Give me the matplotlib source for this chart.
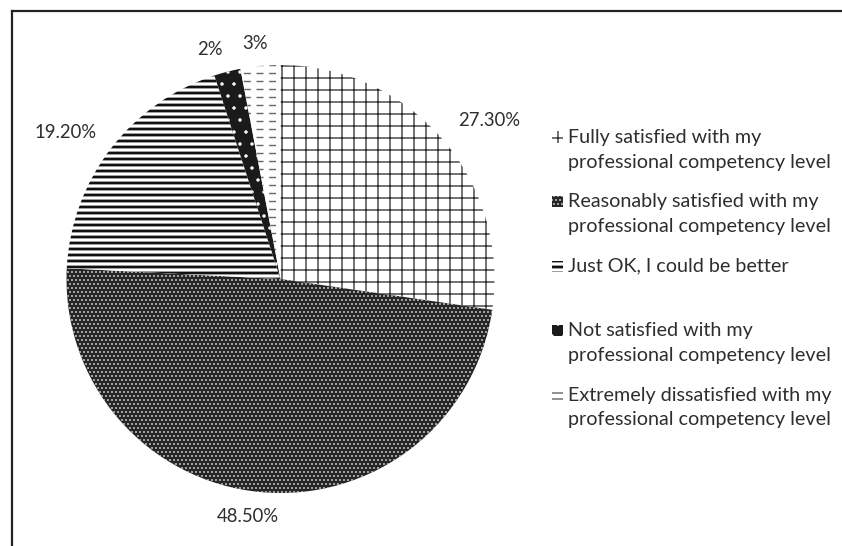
import numpy as np
import matplotlib
matplotlib.use("Agg")
import matplotlib.pyplot as plt
from matplotlib.patches import Rectangle
from matplotlib.lines import Line2D

# ---- data ----
categories = [
    "Fully satisfied with my\nprofessional competency level",
    "Reasonably satisfied with my\nprofessional competency level",
    "Just OK, I could be better",
    "Not satisfied with my\nprofessional competency level",
    "Extremely dissatisfied with my\nprofessional competency level",
]
values = [27.3, 48.5, 19.2, 2.0, 3.0]
value_labels = ["27.30%", "48.50%", "19.20%", "2%", "3%"]

# ---- styles ----
face_colors = ["white", "#262626", "white", "#1a1a1a", "white"]
hatch_colors = ["#2a2a2a", "#d8d8d8", "#111111", "white", "#666666"]
hatches = ["+", "...", "--", ".", None]   # last slice: dashed texture drawn below
legend_hatches = ["+", "...", "--", ".", "--"]
hatch_lw = [1.3, 1.0, 2.8, 1.0, 1.4]
label_dist = [1.225, 1.122, 1.216, 1.12, 1.109]
label_angle_off = [-3.6, -2.2, 3.3, 2.7, 0.8]

plt.rcParams['font.family'] = ['Lato', 'DejaVu Sans']
plt.rcParams['hatch.linewidth'] = 1.3

W, H = 842, 546
fig = plt.figure(figsize=(W / 72, H / 72), dpi=72)

cx, cy, r = 280.5, 279, 214
ax = fig.add_axes([(cx - r) / W, (H - cy - r) / H, 2 * r / W, 2 * r / H])
wedges, _ = ax.pie(values, startangle=90, counterclock=False, radius=1,
                   wedgeprops=dict(linewidth=0))
for w, fc, hc, h, lw in zip(wedges, face_colors, hatch_colors, hatches, hatch_lw):
    w.set_facecolor(fc)
    w.set_edgecolor(hc)
    w.set_hatch(h)
    w.set_linewidth(0)
    if hasattr(w, "set_hatch_linewidth"):
        w.set_hatch_linewidth(lw)
ax.set_xlim(-1, 1)
ax.set_ylim(-1, 1)
ax.set_aspect('equal')
ax.axis('off')

# dashed texture for the "Extremely dissatisfied" slice, clipped to its wedge
dash_wedge = wedges[4]
step = 8.0 / r
for yy in np.arange(-1 + step / 2, 1, step):
    ln, = ax.plot([-1, 1], [yy, yy], color=hatch_colors[4], linewidth=1.4,
                  linestyle=(0, (5, 4)))
    ln.set_clip_path(dash_wedge)

for w, lab, d, off in zip(wedges, value_labels, label_dist, label_angle_off):
    mid = np.deg2rad((w.theta1 + w.theta2) / 2 + off)
    ax.text(d * np.cos(mid), d * np.sin(mid), lab, ha='center', va='center',
            fontsize=18.5, color='#2e2e2e', clip_on=False)

# ---- legend (manual) ----
leg_x_box, leg_x_text = 552, 568
leg_top, leg_step, line_pitch = 137, 64.5, 25
box = 11
for i, (cat, fc, hc, h, lw) in enumerate(zip(categories, face_colors, hatch_colors,
                                             legend_hatches, hatch_lw)):
    y0 = leg_top + i * leg_step
    rect = Rectangle((leg_x_box / W, 1 - (y0 + box / 2) / H), box / W, box / H,
                     transform=fig.transFigure, facecolor=fc, edgecolor=hc,
                     hatch=h, linewidth=0)
    if hasattr(rect, "set_hatch_linewidth"):
        rect.set_hatch_linewidth(lw)
    fig.patches.append(rect)
    for j, line in enumerate(cat.split("\n")):
        fig.text(leg_x_text / W, 1 - (y0 + j * line_pitch) / H, line,
                 ha='left', va='center', fontsize=19.8, color='#2e2e2e')

# ---- outer frame (top and left edges) ----
fig.add_artist(Line2D([12 / W, 12 / W], [-0.01, 1 - 11 / H], transform=fig.transFigure,
                      color='#222222', linewidth=2.2, solid_capstyle='projecting'))
fig.add_artist(Line2D([12 / W, 1.01], [1 - 11 / H, 1 - 11 / H], transform=fig.transFigure,
                      color='#222222', linewidth=2.2, solid_capstyle='projecting'))

fig.savefig("out.png", dpi=72)
